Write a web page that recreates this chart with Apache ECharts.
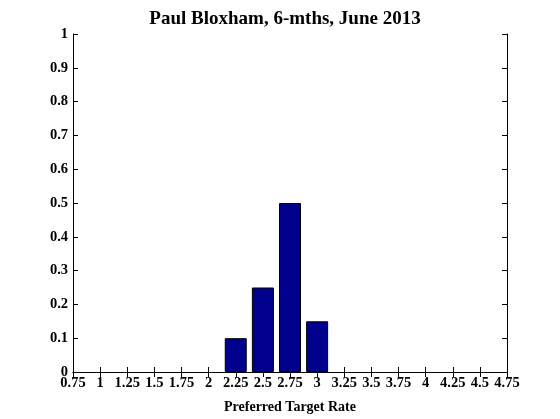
<!DOCTYPE html>
<html><head><meta charset="utf-8">
<script src="https://cdn.jsdelivr.net/npm/echarts@6/dist/echarts.min.js"></script>
<style>html,body{margin:0;padding:0;background:#fff}#c{width:560px;height:419px}</style>
</head><body><div id="c"></div>
<script>
const rates = [2.25, 2.5, 2.75, 3];
const probs = [0.1, 0.25, 0.5, 0.15];
const title = 'Paul Bloxham, 6-mths, June 2013';
const xName = 'Preferred Target Rate';

const font = 'Liberation Serif';
const chart = echarts.init(document.getElementById('c'));
const axisCommon = {
  axisLine: {show: true, lineStyle: {color: '#000', width: 1}},
  axisTick: {show: true, inside: true, length: 5, lineStyle: {color: '#000'}},
  splitLine: {show: false}
};
chart.setOption({
  animation: false,
  title: {text: title, left: 280, textAlign: 'center', top: 5,
    textStyle: {fontFamily: font, fontWeight: 'bold', fontSize: 19, color: '#000'}},
  grid: {left: 73, right: 53, top: 34, bottom: 46},
  xAxis: [
    Object.assign({type: 'value', min: 0.75, max: 4.75, interval: 0.25,
      name: xName, nameLocation: 'middle', nameGap: 28,
      nameTextStyle: {fontFamily: font, fontWeight: 'bold', fontSize: 14, color: '#000'},
      axisLabel: {fontFamily: font, fontWeight: 'bold', fontSize: 14.5, color: '#000', margin: 4}}, axisCommon),
    Object.assign({type: 'value', position: 'top', min: 0.75, max: 4.75, interval: 0.25,
      axisLabel: {show: false}}, axisCommon)
  ],
  yAxis: [
    Object.assign({type: 'value', min: 0, max: 1, interval: 0.1,
      axisLabel: {fontFamily: font, fontWeight: 'bold', fontSize: 14.5, color: '#000', margin: 5}}, axisCommon),
    Object.assign({type: 'value', position: 'right', min: 0, max: 1, interval: 0.1,
      axisLabel: {show: false}}, axisCommon)
  ],
  series: [{
    type: 'bar',
    barWidth: 22,
    data: rates.map((r, i) => [r, probs[i]]),
    itemStyle: {color: '#00008c', borderColor: '#000', borderWidth: 1}
  }]
});
</script></body></html>
